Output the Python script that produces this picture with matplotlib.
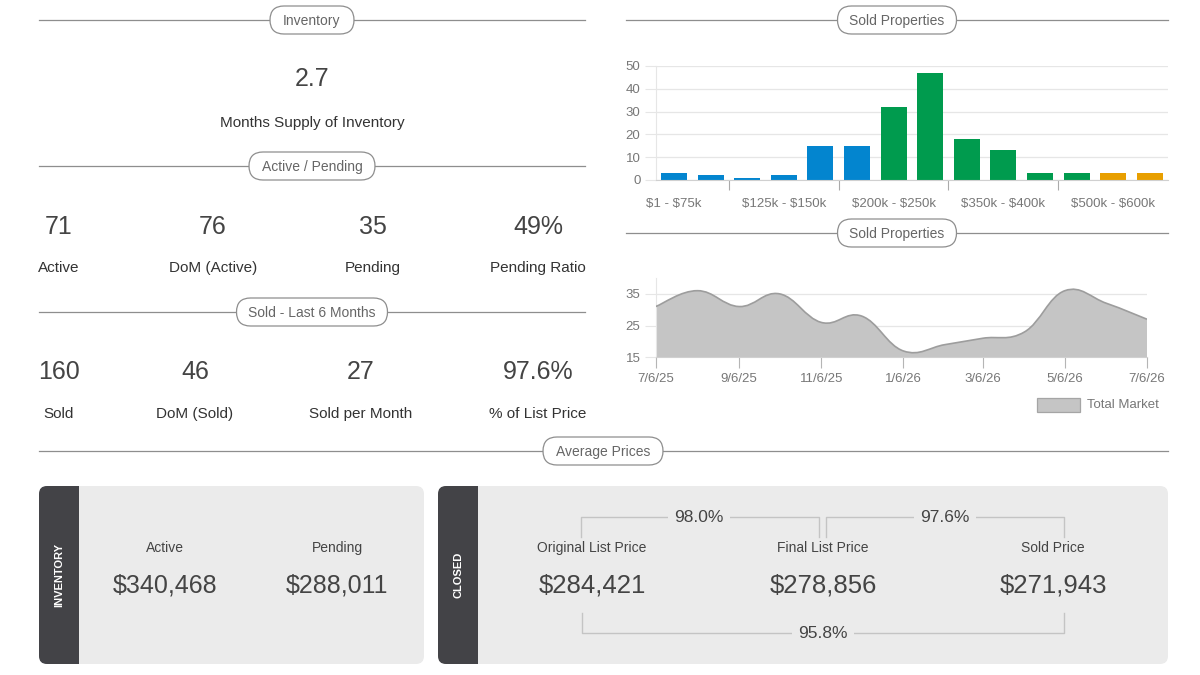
import datetime as dt
import matplotlib
matplotlib.use("Agg")
import matplotlib.pyplot as plt
import matplotlib.dates as mdates
from matplotlib.patches import FancyBboxPatch, Rectangle, PathPatch
from matplotlib.path import Path

plt.rcParams["font.family"] = ["Liberation Sans", "DejaVu Sans"]
plt.rcParams["text.parse_math"] = False

# --- data -------------------------------------------------------------
months_supply = "2.7"

active_pending_values = ["71", "76", "35", "49%"]
active_pending_labels = ["Active", "DoM (Active)", "Pending", "Pending Ratio"]

sold_values = ["160", "46", "27", "97.6%"]
sold_labels = ["Sold", "DoM (Sold)", "Sold per Month", "% of List Price"]

price_bands = ["$1 - $75k", "$75k - $100k", "$100k - $125k", "$125k - $150k",
               "$150k - $175k", "$175k - $200k", "$200k - $250k", "$250k - $300k",
               "$300k - $350k", "$350k - $400k", "$400k - $450k", "$450k - $500k",
               "$500k - $600k", "$600k - $700k"]
sold_counts = [3, 2, 1, 2, 15, 15, 32, 47, 18, 13, 3, 3, 3, 3]

trend_dates = ["2025-07-06", "2025-08-06", "2025-09-06", "2025-10-06", "2025-11-06",
               "2025-12-06", "2026-01-06", "2026-02-06", "2026-03-06", "2026-04-06",
               "2026-05-06", "2026-06-06", "2026-07-06"]
trend_values = [31, 36, 31, 35, 26, 28, 17, 19, 21, 23, 36, 32, 27]
trend_ticks = ["2025-07-06", "2025-09-06", "2025-11-06", "2026-01-06",
               "2026-03-06", "2026-05-06", "2026-07-06"]

inventory_labels = ["Active", "Pending"]
inventory_prices = ["$340,468", "$288,011"]

closed_labels = ["Original List Price", "Final List Price", "Sold Price"]
closed_prices = ["$284,421", "$278,856", "$271,943"]
closed_ratios = ["98.0%", "97.6%", "95.8%"]

# --- styles -------------------------------------------------------------
W, H = 1200, 675
LINE = "#8e8e8e"
PANEL = "#ebebeb"
DARK = "#434347"
BAR_COLORS = ["#0385cf"] * 6 + ["#009b4e"] * 6 + ["#e89f00"] * 2

fig = plt.figure(figsize=(12, 6.75), dpi=100)
bg = fig.add_axes([0, 0, 1, 1])
bg.set_xlim(0, W)
bg.set_ylim(H, 0)
bg.axis("off")


def frac(x0, y0, x1, y1):
    return [x0 / W, 1 - y1 / H, (x1 - x0) / W, (y1 - y0) / H]


def section(x0, x1, y, cx, width, title):
    bg.plot([x0, x1], [y, y], color=LINE, lw=0.9, zorder=1)
    pill = FancyBboxPatch((cx - width / 2, y - 14), width, 28,
                          boxstyle="round,pad=0,rounding_size=14",
                          fc="white", ec=LINE, lw=0.9, zorder=2)
    bg.add_patch(pill)
    bg.text(cx, y + 1, title, ha="center", va="center", fontsize=10,
            color="#666666", zorder=3)


# --- left column ----------------------------------------------------------
section(39, 585, 20, 312, 84, "Inventory")
bg.text(312, 79, months_supply, ha="center", va="center", fontsize=18, color="#444444")
bg.text(312, 123, "Months Supply of Inventory", ha="center", va="center",
        fontsize=11, color="#333333")

section(39, 585, 166, 312, 126, "Active / Pending")
for x, v, lab in zip([59, 213, 373, 538], active_pending_values, active_pending_labels):
    bg.text(x, 227, v, ha="center", va="center", fontsize=18, color="#444444")
    bg.text(x, 268, lab, ha="center", va="center", fontsize=11, color="#333333")

section(39, 585, 312, 312, 151, "Sold - Last 6 Months")
for x, v, lab in zip([59, 195, 361, 538], sold_values, sold_labels):
    bg.text(x, 372, v, ha="center", va="center", fontsize=18, color="#444444")
    bg.text(x, 414, lab, ha="center", va="center", fontsize=11, color="#333333")

# --- right column: sold properties bar chart --------------------------------
section(626, 1168, 20, 897, 119, "Sold Properties")
ax1 = fig.add_axes(frac(655.7, 66, 1168, 180))
xs = list(range(len(sold_counts)))
ax1.bar(xs, sold_counts, width=0.71, color=BAR_COLORS, zorder=2)
ax1.set_xlim(-0.5, len(sold_counts) - 0.5)
ax1.set_ylim(0, 50)
ax1.set_yticks([0, 10, 20, 30, 40, 50])
ax1.set_xticks(xs[::3])
ax1.set_xticklabels(price_bands[::3])
ax1.set_xticks([i + 1.5 for i in xs[::3][:-1]], minor=True)
ax1.tick_params(axis="x", which="major", length=0, pad=13, labelsize=9.5, labelcolor="#777777")
ax1.tick_params(axis="x", which="minor", length=7, color="#aaaaaa", width=0.8)
ax1.tick_params(axis="y", length=8, color="#e6e6e6", pad=3, labelsize=9.5, labelcolor="#777777")
ax1.grid(axis="y", color="#e6e6e6", lw=0.9, zorder=0)
for s in ["top", "right"]:
    ax1.spines[s].set_visible(False)
ax1.spines["left"].set_color("#e6e6e6")
ax1.spines["bottom"].set_color("#d0d0d0")
ax1.patch.set_alpha(0)

# --- right column: trend area chart ------------------------------------------
section(626, 1168, 233, 897, 119, "Sold Properties")
ax2 = fig.add_axes(frac(655.7, 278, 1147, 357.3))
px = [mdates.date2num(dt.date.fromisoformat(d)) for d in trend_dates]
py = trend_values
t = 0.2
verts = [(px[0], py[0])]
codes = [Path.MOVETO]
n = len(px)
for i in range(n - 1):
    a = max(i - 1, 0)
    b = min(i + 2, n - 1)
    c1 = (px[i] + t * (px[i + 1] - px[a]), py[i] + t * (py[i + 1] - py[a]))
    c2 = (px[i + 1] - t * (px[b] - px[i]), py[i + 1] - t * (py[b] - py[i]))
    verts += [c1, c2, (px[i + 1], py[i + 1])]
    codes += [Path.CURVE4] * 3
line_path = Path(verts, codes)
fill_path = Path(verts + [(px[-1], 15), (px[0], 15), (px[0], py[0])],
                 codes + [Path.LINETO, Path.LINETO, Path.CLOSEPOLY])
ax2.add_patch(PathPatch(fill_path, fc="#c5c5c5", ec="none", zorder=2))
ax2.add_patch(PathPatch(line_path, fc="none", ec="#9d9d9d", lw=1.2, zorder=3))
ax2.set_xlim(px[0], px[-1])
ax2.set_ylim(15, 40)
ax2.set_yticks([15, 25, 35])
tick_nums = [mdates.date2num(dt.date.fromisoformat(d)) for d in trend_ticks]
ax2.set_xticks(tick_nums)
ax2.set_xticklabels([f"{d.month}/{d.day}/{d.year % 100}" for d in
                     (dt.date.fromisoformat(s) for s in trend_ticks)])
ax2.tick_params(axis="x", length=8, color="#b5b5b5", width=0.8, pad=3,
                labelsize=9.5, labelcolor="#777777")
ax2.tick_params(axis="y", length=8, color="#e6e6e6", pad=3, labelsize=9.5, labelcolor="#777777")
ax2.grid(axis="y", color="#e6e6e6", lw=0.9, zorder=0)
for s in ["top", "right"]:
    ax2.spines[s].set_visible(False)
ax2.spines["left"].set_color("#e6e6e6")
ax2.spines["bottom"].set_color("#d0d0d0")
ax2.patch.set_alpha(0)

bg.add_patch(Rectangle((1037, 398), 43, 14, fc="#c5c5c5", ec="#a5a5a5", lw=0.9))
bg.text(1087, 405, "Total Market", ha="left", va="center", fontsize=9.5, color="#777777")

# --- average prices ----------------------------------------------------------
section(39, 1168, 451, 603, 120, "Average Prices")


def panel(x0, x1, title):
    box = FancyBboxPatch((x0, 486), x1 - x0, 178,
                         boxstyle="round,pad=0,rounding_size=8",
                         fc=PANEL, ec="none", zorder=1)
    bg.add_patch(box)
    strip = Rectangle((x0, 486), 40, 178, fc=DARK, ec="none", zorder=2)
    bg.add_patch(strip)
    strip.set_clip_path(box)
    bg.text(x0 + 20, 575, title, rotation=90, ha="center", va="center",
            fontsize=8, fontweight="bold", color="white", zorder=3)


panel(39, 424, "INVENTORY")
panel(438, 1168, "CLOSED")

for x, lab, val in zip([165, 337], inventory_labels, inventory_prices):
    bg.text(x, 548, lab, ha="center", va="center", fontsize=10, color="#444444", zorder=3)
    bg.text(x, 585, val, ha="center", va="center", fontsize=18, color="#444444", zorder=3)

for x, lab, val in zip([592, 823, 1053], closed_labels, closed_prices):
    bg.text(x, 548, lab, ha="center", va="center", fontsize=10, color="#444444", zorder=3)
    bg.text(x, 585, val, ha="center", va="center", fontsize=18.5, color="#444444", zorder=3)

BR = "#c4c4c4"
brackets = [(581, 819, 517, 537, 699), (826, 1064, 517, 537, 945), (582, 1064, 633, 613, 823)]
for (xa, xb, yl, ye, cx), ratio in zip(brackets, closed_ratios):
    bg.plot([xa, xa, xb, xb], [ye, yl, yl, ye], color=BR, lw=1.0, zorder=2)
    bg.text(cx, yl + 1, ratio, ha="center", va="center", fontsize=12.5, color="#444444",
            zorder=3, bbox=dict(boxstyle="square,pad=0.35", fc=PANEL, ec="none"))

fig.savefig("out.png", dpi=100)
